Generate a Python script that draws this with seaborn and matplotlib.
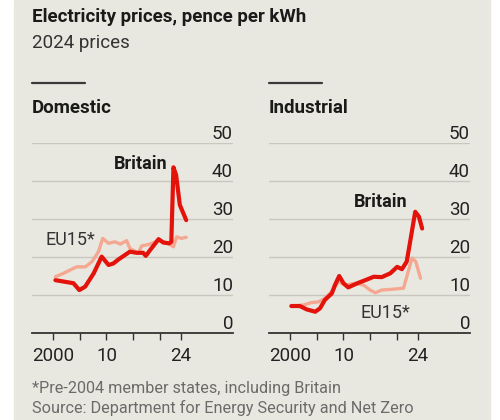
import seaborn as sns
import matplotlib.pyplot as plt
from matplotlib.lines import Line2D
from matplotlib.patches import Rectangle

# values (pence per kWh, 2024 prices)
dom_uk_year = [2000.4, 2003.8, 2004.9, 2006.0, 2007.6, 2009.1, 2010.4, 2011.3, 2012.3,
               2014.4, 2015.7, 2016.9, 2017.4, 2018.2, 2019.8, 2020.7, 2021.8, 2022.2,
               2022.6, 2023.1, 2023.8, 2025.0]
dom_uk = [13.9, 13.1, 11.3, 12.2, 15.7, 20.1, 17.9, 18.3, 19.4,
          21.4, 21.1, 21.1, 20.3, 21.8, 24.7, 23.8, 23.6, 24.0,
          43.6, 41.6, 33.7, 29.7]

dom_eu_year = [2000.4, 2001.9, 2003.2, 2004.4, 2006.0, 2007.3, 2008.5, 2009.3, 2010.4,
               2011.6, 2012.6, 2013.8, 2014.4, 2016.0, 2016.6, 2018.2, 2019.8, 2021.3,
               2022.6, 2023.2, 2024.1, 2025.0]
dom_eu = [14.8, 15.7, 16.6, 17.4, 17.4, 18.8, 21.4, 24.9, 23.6,
          24.0, 23.4, 24.3, 22.3, 21.0, 22.9, 23.4, 24.3, 23.8,
          22.7, 25.3, 24.9, 25.2]

ind_uk_year = [2000.2, 2001.8, 2003.1, 2004.7, 2005.6, 2006.5, 2007.8, 2008.4, 2009.2,
               2010.0, 2010.9, 2012.8, 2014.1, 2015.7, 2017.2, 2018.8, 2020.1, 2021.0,
               2021.9, 2022.6, 2023.5, 2024.2, 2024.8]
ind_uk = [7.1, 7.1, 6.2, 5.6, 6.5, 8.7, 10.4, 12.6, 15.0,
          13.1, 12.0, 13.2, 13.9, 14.8, 14.7, 15.7, 17.4, 16.8,
          18.8, 24.5, 31.9, 30.6, 27.5]

ind_eu_year = [2000.2, 2002.5, 2004.0, 2005.3, 2006.5, 2007.8, 2009.1, 2010.3, 2012.2,
               2013.8, 2015.0, 2016.0, 2017.2, 2019.1, 2021.3, 2021.9, 2022.9, 2023.6,
               2024.5]
ind_eu = [7.0, 7.4, 8.0, 8.2, 9.1, 10.9, 13.5, 12.6, 13.1,
          12.6, 11.3, 10.6, 11.3, 11.5, 11.8, 14.8, 19.7, 18.8,
          14.4]

y_ticks = [0, 10, 20, 30, 40, 50]
x_ticks = [2000, 2005, 2010, 2015, 2020, 2024]
x_labels = ["2000", "", "10", "", "", "24"]

RED = "#e3120b"
PINK = "#f5a891"
BG = "#e9e8e0"
FONTS = ["Roboto", "DejaVu Sans"]

sns.set_theme(style="white")
plt.rcParams["font.family"] = FONTS

fig = plt.figure(figsize=(5, 4.2), dpi=100, facecolor="white")
fig.patches.append(Rectangle((14 / 500, 0), 476 / 500, 1, transform=fig.transFigure,
                             color=BG, zorder=-10))

W, H = 500, 420


def fx(px):
    return px / W


def fy(px):
    return 1 - px / H


fig.text(fx(32), fy(21.5), "Electricity prices, pence per kWh", fontsize=13.5,
         fontweight="bold", color="#1a1a1a", va="baseline")
fig.text(fx(32), fy(47.5), "2024 prices", fontsize=13.5, color="#333333", va="baseline")
fig.text(fx(32), fy(393), "*Pre-2004 member states, including Britain", fontsize=11.7,
         color="#6b6b6b", va="baseline")
fig.text(fx(32), fy(413), "Source: Department for Energy Security and Net Zero",
         fontsize=11.7, color="#6b6b6b", va="baseline")

panels = [
    (32, "Domestic", dom_uk_year, dom_uk, dom_eu_year, dom_eu,
     (2021.4, 44.5), (1998.5, 24.5)),
    (269, "Industrial", ind_uk_year, ind_uk, ind_eu_year, ind_eu,
     (2022.1, 34.5), (2013.3, 5.3)),
]

for left, name, uy, uv, ey, ev, uk_pos, eu_pos in panels:
    fig.add_artist(Line2D([fx(left), fx(left + 53)], [fy(83), fy(83)],
                          color="#3a3a3a", lw=1.6, transform=fig.transFigure))
    fig.text(fx(left), fy(113), name, fontsize=13.5, fontweight="bold",
             color="#1a1a1a", va="baseline")

    ax = fig.add_axes([fx(left), (H - 333) / H, 201 / W, 190 / H])
    ax.set_facecolor("none")
    for v in y_ticks[1:]:
        ax.axhline(v, color="#c9c7bf", lw=1.0, zorder=0)

    sns.lineplot(x=ey, y=ev, ax=ax, color=PINK, lw=2.4, zorder=2)
    sns.lineplot(x=uy, y=uv, ax=ax, color=RED, lw=3.0, zorder=3)

    ax.set_xlim(1996.0, 2033.8)
    ax.set_ylim(0, 50)
    ax.set_xlabel("")
    ax.set_ylabel("")

    for s in ["top", "left", "right"]:
        ax.spines[s].set_visible(False)
    ax.spines["bottom"].set_color("#333333")
    ax.spines["bottom"].set_linewidth(1.3)

    ax.set_xticks(x_ticks)
    ax.set_xticklabels(x_labels)
    ax.tick_params(axis="x", direction="out", length=5, width=1.0, color="#333333",
                   pad=5, labelsize=13.5, labelcolor="#222222", bottom=True)

    ax.yaxis.tick_right()
    ax.set_yticks(y_ticks)
    ax.set_yticklabels([str(v) for v in y_ticks])
    ax.tick_params(axis="y", length=0, pad=0, labelsize=13.5, labelcolor="#222222")
    for lab in ax.get_yticklabels():
        lab.set_ha("right")
        lab.set_va("bottom")

    ax.text(uk_pos[0], uk_pos[1], "Britain", fontsize=13, fontweight="bold",
            color="#1a1a1a", ha="right", va="center")
    ax.text(eu_pos[0], eu_pos[1], "EU15*", fontsize=13, color="#333333",
            ha="left", va="center")

fig.savefig("out.png", dpi=100, facecolor="white")
